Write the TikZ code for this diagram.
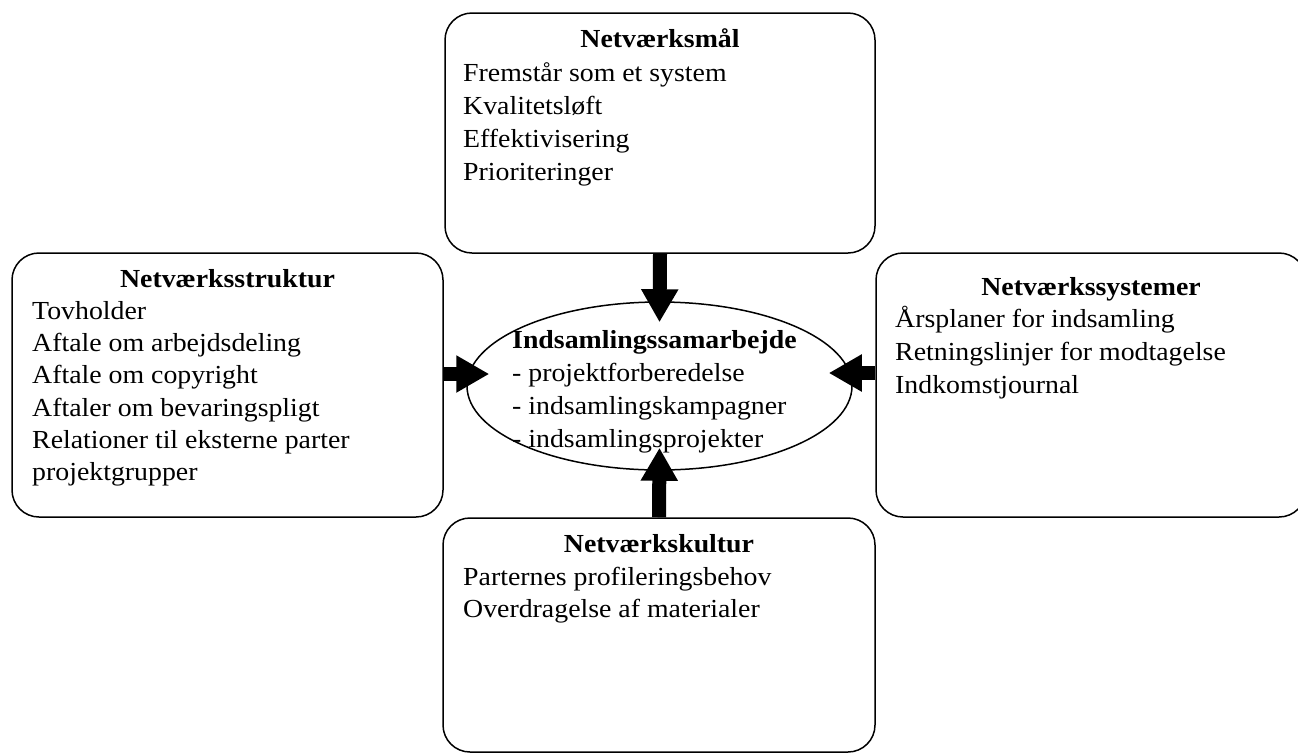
\documentclass[tikz,border=0pt]{standalone}
\usepackage{fontspec}
\setmainfont{Liberation Serif}[FakeStretch=1.07]
\usetikzlibrary{arrows.meta,shapes.geometric}
\begin{document}
\begin{tikzpicture}[x=1pt,y=-1pt,
  box/.style={draw, line width=1.5pt, rounded corners=27pt, inner sep=0pt},
  txt/.style={inner sep=0pt, anchor=base west, font=\fontsize{26}{33}\selectfont},
  ttl/.style={inner sep=0pt, anchor=base, font=\fontsize{26}{33}\selectfont\bfseries},
  bigarrow/.style={line width=14pt, -{Triangle[width=35pt,length=33pt]}}]
\useasboundingbox (0,0) rectangle (1298,753);
% boxes
\node[box, minimum width=430pt, minimum height=240pt] (top) at (660,133) {};
\node[box, minimum width=431pt, minimum height=264pt] (left) at (227.5,385) {};
\node[box, minimum width=430pt, minimum height=264pt] (right) at (1091,385) {};
\node[box, minimum width=432pt, minimum height=234pt] (bottom) at (659,635) {};
\node[draw, ellipse, line width=1.5pt, inner sep=0pt, minimum width=385pt, minimum height=168pt] (ell) at (659.5,386) {};
% texts
\node[ttl] (toptitle) at (660,47.7) {Netværksmål};
\foreach \t [count=\i] in {Fremstår som et system, Kvalitetsløft, Effektivisering, Prioriteringer}
  \node[txt] (top\i) at (463,{81+33*(\i-1)}) {\t};
\node[ttl] (lefttitle) at (227.5,287) {Netværksstruktur};
\foreach \t [count=\i] in {Tovholder, Aftale om arbejdsdeling, Aftale om copyright, Aftaler om bevaringspligt, Relationer til eksterne parter, projektgrupper}
  \node[txt] (left\i) at (32,{319.5+32.2*(\i-1)}) {\t};
\node[ttl] (righttitle) at (1091,295) {Netværkssystemer};
\foreach \t [count=\i] in {Årsplaner for indsamling, Retningslinjer for modtagelse, Indkomstjournal}
  \node[txt] (right\i) at (895,{327.5+33*(\i-1)}) {\t};
\node[ttl] (bottomtitle) at (659,552) {Netværkskultur};
\foreach \t [count=\i] in {Parternes profileringsbehov, Overdragelse af materialer}
  \node[txt] (bottom\i) at (463,{585+32.5*(\i-1)}) {\t};
\node[txt, font=\fontsize{26}{33}\selectfont\bfseries] (elltitle) at (512,348) {Indsamlingssamarbejde};
\foreach \t [count=\i] in {- projektforberedelse, - indsamlingskampagner, - indsamlingsprojekter}
  \node[txt] (ell\i) at (512,{381.5+33*(\i-1)}) {\t};
% arrows
\draw[bigarrow] (top.south) -- ([yshift=-21pt]ell.north);
\draw[bigarrow] ([yshift=11pt]left.east) -- ([xshift=23pt,yshift=12pt]ell.west);
\draw[bigarrow] ([yshift=12pt]right.west) -- ([xshift=-24pt,yshift=13pt]ell.east);
\draw[bigarrow] (bottom.north) -- ([yshift=23pt]ell.south);
\end{tikzpicture}
\end{document}
